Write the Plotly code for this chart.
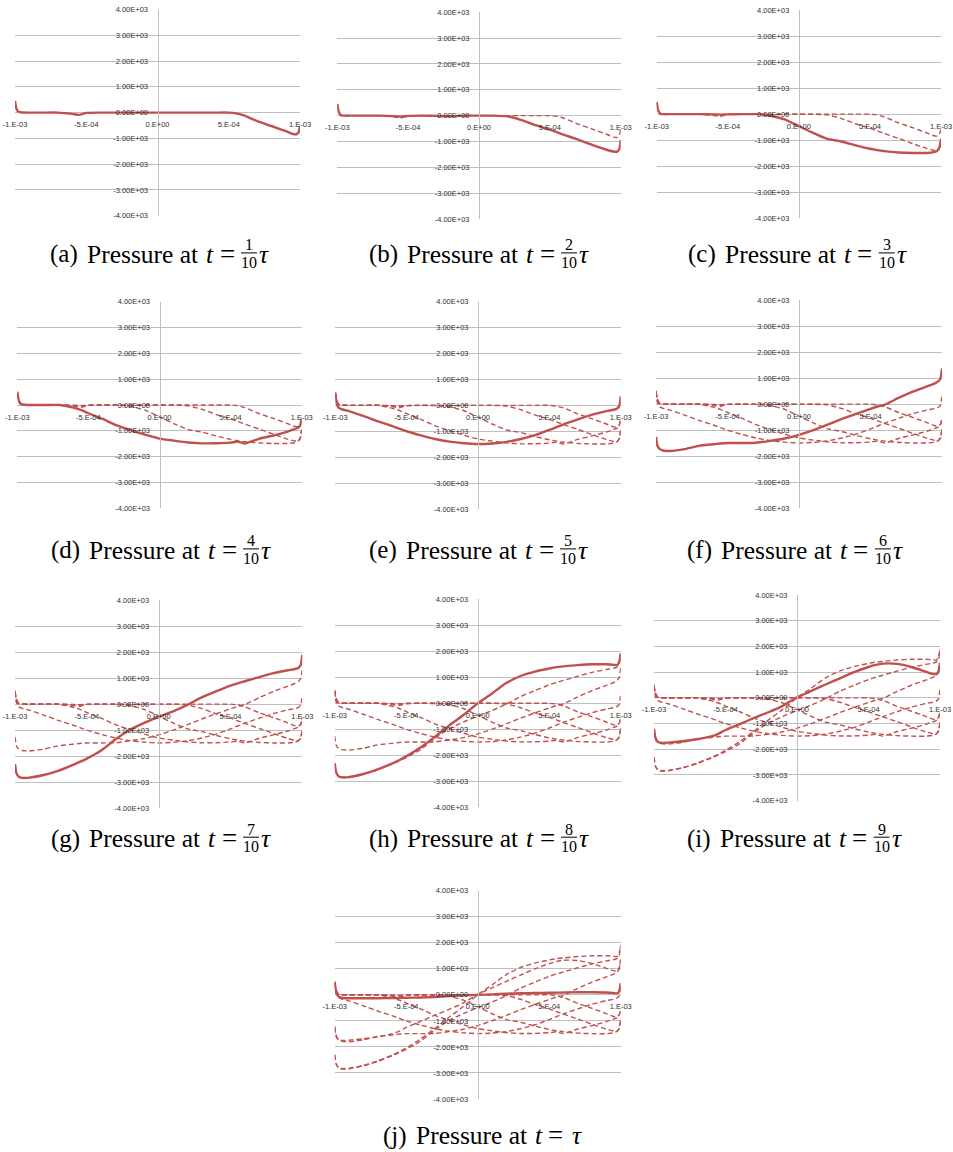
import plotly.graph_objects as go

# ---------------- data ----------------
# x positions in units of 1e-4 (m)
X_E4 = [-10, -9.9, -9.75, -9.5, -9, -8, -7, -6, -5.5, -5, -4, -3, -2, -1, 0,
        1, 2, 3, 4, 5, 5.5, 6, 7, 8, 9, 9.5, 9.75, 9.9, 10]

P_T1 = [450, 150, 30, 5, 0, 0, 0, -50, -90, -10, 0, 0, 0, 0, 0,
        0, 0, 0, 0, 0, -30, -100, -330, -520, -720, -830, -840, -760, -520]
P_T2 = [450, 150, 20, 0, 0, 0, 0, -20, -40, -10, 0, -10, -20, 0, 0,
        0, -30, -170, -370, -540, -640, -740, -930, -1130, -1320, -1390, -1390, -1300, -950]
P_T3 = [470, 150, 20, 0, 0, 0, 0, -10, -20, -10, 0, 0, -60, -200, -460,
        -720, -950, -1050, -1200, -1330, -1380, -1420, -1470, -1490, -1490, -1460, -1400, -1250, -950]
P_T4 = [520, 200, 50, 10, 0, 0, 0, -110, -200, -320, -540, -790, -980, -1150, -1300,
        -1380, -1450, -1485, -1480, -1455, -1420, -1490, -1310, -1180, -1030, -930, -880, -780, -520]
P_T5 = [480, 50, -100, -160, -230, -420, -620, -800, -900, -1000, -1160, -1300, -1400, -1460, -1490,
        -1470, -1410, -1300, -1150, -950, -840, -730, -540, -360, -220, -170, -120, -30, 350]
P_T6 = [-1260, -1600, -1720, -1780, -1800, -1730, -1600, -1540, -1510, -1490, -1490, -1480, -1410, -1320, -1180,
        -1000, -790, -570, -370, -180, -90, -20, 250, 490, 690, 800, 880, 1000, 1370]
P_T7 = [-2300, -2650, -2780, -2830, -2820, -2720, -2560, -2340, -2220, -2090, -1780, -1350, -980, -720, -490,
        -280, -30, 260, 490, 710, 800, 880, 1040, 1190, 1300, 1350, 1400, 1520, 1900]
P_T8 = [-2300, -2650, -2800, -2850, -2840, -2720, -2540, -2320, -2190, -2040, -1700, -1290, -860, -450, 0,
        380, 780, 1050, 1220, 1340, 1390, 1420, 1470, 1500, 1500, 1480, 1470, 1600, 1920]
P_T9 = [-1200, -1550, -1700, -1750, -1740, -1690, -1610, -1500, -1400, -1250, -1020, -780, -560, -310, 20,
        270, 520, 760, 1000, 1200, 1280, 1330, 1320, 1200, 1020, 930, 920, 1050, 1350]
P_T10 = [500, 100, -60, -110, -130, -130, -130, -120, -120, -110, -100, -80, -50, -20, 0,
         20, 40, 60, 70, 80, 85, 90, 100, 100, 90, 70, 60, 150, 450]

SERIES = [P_T1, P_T2, P_T3, P_T4, P_T5, P_T6, P_T7, P_T8, P_T9, P_T10]

X_TICKS = [-1e-3, -5e-4, 0.0, 5e-4, 1e-3]
X_TICK_TEXT = ["-1.E-03", "-5.E-04", "0.E+00", "5.E-04", "1.E-03"]
Y_TICKS = [4000, 3000, 2000, 1000, 0, -1000, -2000, -3000, -4000]
Y_TICK_TEXT = ["4.00E+03", "3.00E+03", "2.00E+03", "1.00E+03", "0.00E+00",
               "-1.00E+03", "-2.00E+03", "-3.00E+03", "-4.00E+03"]

LABELS = ["(a)", "(b)", "(c)", "(d)", "(e)", "(f)", "(g)", "(h)", "(i)", "(j)"]
NUMERATORS = ["1", "2", "3", "4", "5", "6", "7", "8", "9", None]

# ---------------- layout geometry (pixels) ----------------
W, H = 953, 1152
# (left, right, top, bottom) of each plot area
PANELS = [
    (15, 300, 9.5, 215.7), (337.3, 620.7, 12.3, 219), (656.7, 941, 10, 218.3),
    (17.3, 301.7, 301.7, 508.3), (335.3, 620.7, 301.7, 509), (656, 942, 300, 508.3),
    (15, 302.3, 600, 808.3), (334.7, 620.7, 599.3, 807.3), (654, 940, 595, 800.7),
    (334.7, 620.7, 890.7, 1099),
]
# caption left edge and baseline
CAP_POS = [
    (49.3, 262.7), (368, 262.7), (687, 262.7),
    (50, 558.7), (368.3, 558.7), (686, 558.7),
    (50, 847), (368, 847), (686, 847),
    (382, 1144),
]

RED = "#C0504D"
GRID = "#BFBFBF"


def fx(p):
    return p / W


def fy(p):
    return 1 - p / H


x_vals = [v * 1e-4 for v in X_E4]

fig = go.Figure()
layout = dict(
    width=W, height=H, margin=dict(l=0, r=0, t=0, b=0, pad=0, autoexpand=False),
    paper_bgcolor="white", plot_bgcolor="white", showlegend=False,
)

tick_font = dict(family="Liberation Sans", size=7.5, color="#303030")

for i, (x0, x1, yt, yb) in enumerate(PANELS):
    n = i + 1
    sx = "" if n == 1 else str(n)
    xa, ya = "x" + sx, "y" + sx
    layout["xaxis" + sx] = dict(
        domain=[fx(x0), fx(x1)], range=[-1e-3, 1e-3], anchor="free",
        position=fy((yt + yb) / 2), tickvals=X_TICKS, ticktext=X_TICK_TEXT,
        showgrid=False, zeroline=False, showline=False, ticks="",
        tickfont=tick_font, ticklabelstandoff=6, fixedrange=True,
        automargin=False,
    )
    layout["yaxis" + sx] = dict(
        domain=[fy(yb), fy(yt)], range=[-4000, 4000], anchor="free",
        position=fx((x0 + x1) / 2), tickvals=Y_TICKS, ticktext=Y_TICK_TEXT,
        showgrid=True, gridcolor=GRID, gridwidth=1, zeroline=False,
        showline=True, linecolor=GRID, linewidth=1, ticks="",
        tickfont=tick_font, ticklabelstandoff=8, fixedrange=True,
        automargin=False,
    )
    for j in range(n):
        solid = (j == n - 1)
        fig.add_trace(go.Scatter(
            x=x_vals, y=SERIES[j], mode="lines", xaxis=xa, yaxis=ya,
            line=dict(color=RED, width=2.4 if solid else 1.4,
                      dash="solid" if solid else "5px,3px",
                      shape="spline", smoothing=0.5),
            hoverinfo="skip",
        ))

# ---------------- captions ----------------
SERIF = "Liberation Serif"
CAP_SIZE = 25.5
W_CHAR = {"(": .333, ")": .333, "a": .444, "b": .5, "c": .444, "d": .5, "e": .444,
          "f": .333, "g": .5, "h": .5, "i": .278, "j": .278}
annotations = []
shapes = []


def ann(text, x, base, size, anchor="left"):
    # place text so its baseline sits at `base` (pixels)
    mid = base - 0.3375 * size
    annotations.append(dict(
        text=text, x=fx(x), y=fy(mid), xref="paper", yref="paper",
        xanchor=anchor, yanchor="middle", showarrow=False,
        font=dict(family=SERIF, size=size, color="black"), borderpad=0,
    ))


W_A = sum(W_CHAR[c] for c in "(a)")
for i, lab in enumerate(LABELS):
    L, B = CAP_POS[i]
    ann(lab, L, B, 25)
    wl = sum(W_CHAR[c] for c in lab)
    P = L + 36.7 + (wl - W_A) * 25
    ann("Pressure at", P, B, CAP_SIZE)
    ann("<i>t</i>", P + 119, B, CAP_SIZE)
    ann("=", P + 141, B + 0.5, 27, anchor="center")
    num = NUMERATORS[i]
    if num is not None:
        ann(num, P + 163, B - 12.4, 16, anchor="center")
        ann("10", P + 163, B + 5.3, 16, anchor="center")
        shapes.append(dict(type="line", xref="paper", yref="paper",
                           x0=fx(P + 155), x1=fx(P + 171),
                           y0=fy(B - 9.8), y1=fy(B - 9.8),
                           line=dict(color="black", width=1)))
        ann("<i>τ</i>", P + 172, B, CAP_SIZE)
    else:
        ann("<i>τ</i>", P + 156, B, CAP_SIZE)

layout["annotations"] = annotations
layout["shapes"] = shapes
fig.update_layout(**layout)
fig.write_html(
    "out.html",
    post_script="document.body.style.margin='0';document.body.style.padding='0';"
                "document.documentElement.style.overflow='hidden';",
)
